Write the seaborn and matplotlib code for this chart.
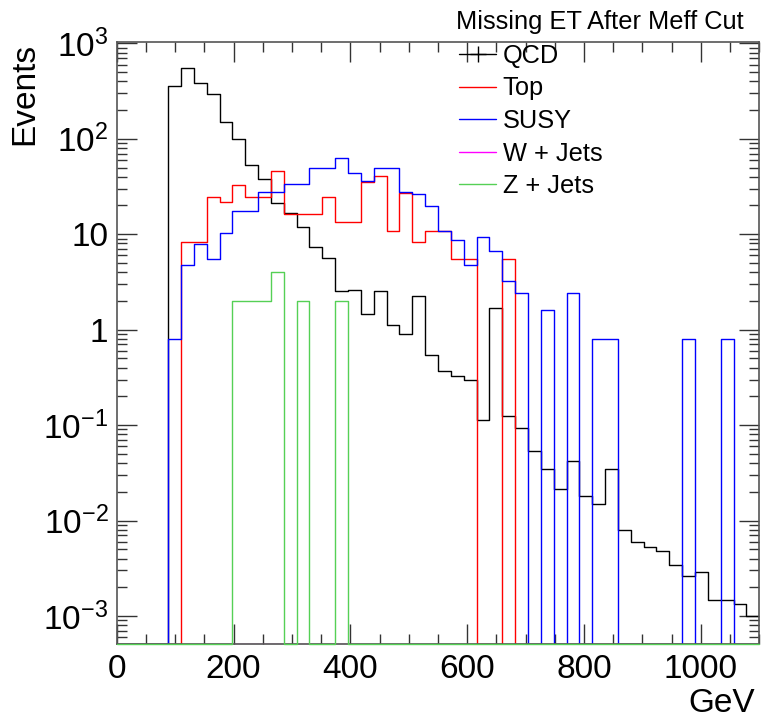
import numpy as np
import pandas as pd
import matplotlib
matplotlib.use('Agg')
import matplotlib.pyplot as plt
import seaborn as sns
from matplotlib.lines import Line2D
from matplotlib.ticker import FixedLocator, FixedFormatter, MultipleLocator, LogLocator, NullFormatter

sns.set_theme(style='ticks')
plt.rcParams['font.family'] = ['Liberation Sans', 'DejaVu Sans']
plt.rcParams['mathtext.fontset'] = 'custom'
plt.rcParams['mathtext.rm'] = 'Liberation Sans'
plt.rcParams['text.color'] = 'black'

# 50 bins, 0 - 1100 GeV
edges = [22.0 * i for i in range(51)]
centers = [e + 11 for e in edges[:-1]]

qcd = [0, 0, 0, 0, 360, 547, 381, 293, 149, 100,
       53, 38, 21.4, 16.6, 11.8, 7.3, 5.7, 2.52, 2.6, 1.47,
       2.52, 1.12, 0.90, 2.27, 0.54, 0.366, 0.327, 0.30, 0.113, 1.70,
       0.124, 0.094, 0.053, 0.0349, 0.0214, 0.0424, 0.0179, 0.0148, 0.0349, 0.0079,
       0.00596, 0.00532, 0.0048, 0.0034, 0.00262, 0.00287, 0.00148, 0.00148, 0.00133, 0.00101]
top = [0, 0, 0, 0, 0, 8.2, 8.2, 24.4, 21.6, 33,
       24.4, 24.4, 46, 16.3, 16.3, 16.3, 24.8, 13.5, 13.5, 35.5,
       41, 10.9, 26.8, 8.3, 10.9, 10.9, 5.46, 5.46, 0, 0,
       5.46, 0, 0, 0, 0, 0, 0, 0, 0, 0,
       0, 0, 0, 0, 0, 0, 0, 0, 0, 0]
susy = [0, 0, 0, 0, 0.79, 4.75, 7.9, 5.5, 10.2, 17.3,
        17.3, 28, 28, 33.6, 33.6, 50, 49, 63, 44, 36,
        49, 49, 27.5, 26.4, 19.9, 10.9, 8.6, 4.75, 9.4, 6.6,
        3.24, 2.4, 0, 1.6, 0, 2.4, 0, 0.8, 0.8, 0,
        0, 0, 0, 0, 0.8, 0, 0, 0.8, 0, 0]
wjets = [0] * 50
zjets = [0, 0, 0, 0, 0, 0, 0, 0, 0, 2,
         2, 2, 4, 0, 2, 0, 0, 2, 0, 0,
         0, 0, 0, 0, 0, 0, 0, 0, 0, 0,
         0, 0, 0, 0, 0, 0, 0, 0, 0, 0,
         0, 0, 0, 0, 0, 0, 0, 0, 0, 0]

names = ['QCD', 'Top', 'SUSY', 'W + Jets', 'Z + Jets']
colors = ['black', '#ff0000', '#0000ff', '#ff00ff', '#55d055']
series = [qcd, top, susy, wjets, zjets]

ymin, ymax = 5.09e-4, 1.04e3

fig = plt.figure(figsize=(7.61, 7.19), dpi=100)
ax = fig.add_axes([116.7 / 761, 1 - 644 / 719, 642.6 / 761, 602.3 / 719])

for vals, c in zip(series, colors):
    # empty bins sit on the bottom of the frame, like ROOT draws them
    df = pd.DataFrame({'met': centers, 'w': [v if v > 0 else ymin for v in vals]})
    sns.histplot(data=df, x='met', weights='w', bins=edges, element='step', fill=False,
                 color=c, linewidth=1.0, ax=ax)

# Z + Jets drawn last sits on top of the frame bottom
ax.lines[-1].set_clip_on(False)
ax.lines[-1].set_zorder(3)

ax.set_yscale('log')
ax.set_xlim(0, 1100)
ax.set_ylim(ymin, ymax)
ax.set_xlabel('')
ax.set_ylabel('')

ax.xaxis.set_major_locator(MultipleLocator(200))
ax.xaxis.set_minor_locator(MultipleLocator(50))
yt = [1e-3, 1e-2, 1e-1, 1, 10, 100, 1000]
ylab = [r'$\mathregular{10^{-3}}$', r'$\mathregular{10^{-2}}$', r'$\mathregular{10^{-1}}$',
        '1', '10', r'$\mathregular{10^{2}}$', r'$\mathregular{10^{3}}$']
ax.yaxis.set_major_locator(FixedLocator(yt))
ax.yaxis.set_major_formatter(FixedFormatter(ylab))
ax.yaxis.set_minor_locator(LogLocator(base=10, subs=np.arange(2, 10), numticks=20))
ax.yaxis.set_minor_formatter(NullFormatter())

ax.tick_params(which='both', direction='in', top=True, right=True, color='#333333',
               width=1, labelcolor='black')
ax.tick_params(which='major', length=14.4, labelsize=24)
ax.tick_params(which='minor', length=7.2)
ax.tick_params(axis='x', pad=7)
ax.tick_params(axis='y', pad=6)
for s in ax.spines.values():
    s.set_color('#555555')
    s.set_linewidth(1.2)

fig.text(25 / 761, 1 - 43 / 719, 'Events', rotation=90, ha='center', va='top', fontsize=24)
fig.text(755 / 761, 1 - 712 / 719, 'GeV', ha='right', va='baseline', fontsize=24)
fig.text(744 / 761, 1 - 29 / 719, 'Missing ET After Meff Cut', ha='right', va='baseline',
         fontsize=18.3)

handles = [Line2D([], [], color=colors[0], lw=1, marker='+', markersize=12)]
handles += [Line2D([], [], color=c, lw=1) for c in colors[1:]]
ax.legend(handles, names, loc='upper left', bbox_to_anchor=(459.3 / 761, 1 - 43.8 / 719),
          bbox_transform=fig.transFigure, frameon=False, fontsize=18.3,
          borderpad=0, borderaxespad=0, handlelength=1.45, handletextpad=0.26,
          labelspacing=0.34)

fig.savefig('out.png', dpi=100)
